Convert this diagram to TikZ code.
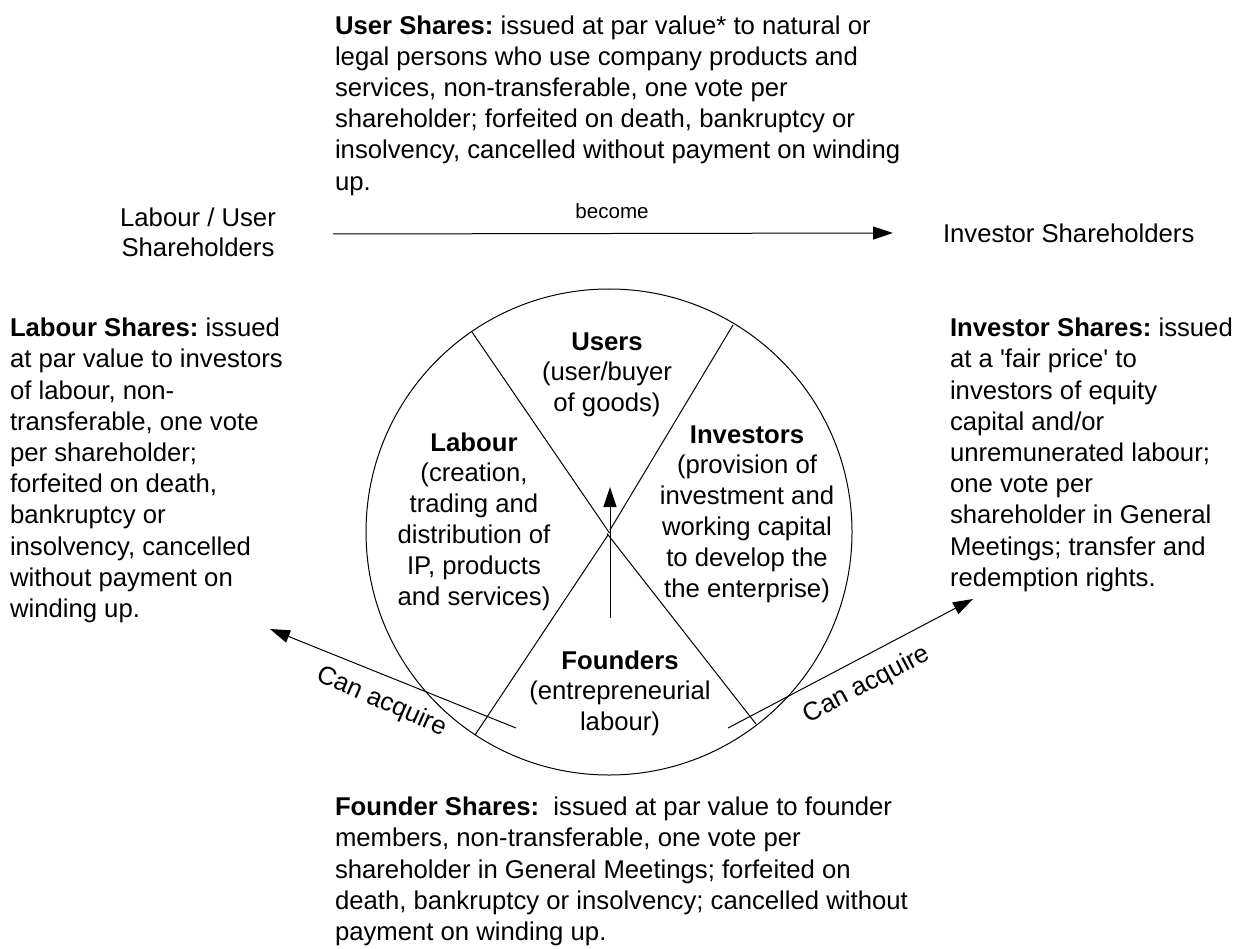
\documentclass[tikz,border=0pt]{standalone}
\usepackage{fontspec}
\newfontfamily\arial{Liberation Sans}
\usetikzlibrary{arrows.meta}
\begin{document}
\frenchspacing
\begin{tikzpicture}[x=1pt,y=-1pt,
  every node/.style={inner sep=0pt, outer sep=0pt},
  body/.style={font=\arial\fontsize{25.7}{31.2}\selectfont\frenchspacing},
  txt/.style={body, align=left, anchor=north west},
  ctxt/.style={font=\arial\fontsize{25.7}{30.8}\selectfont\frenchspacing, align=center, anchor=north},
  conn/.style={line width=1pt},
  arr/.style={conn, -{Triangle[length=20pt,width=13pt]}},
]
\fill[white] (0,0) rectangle (1246,949);
\path[use as bounding box] (0,0) rectangle (1246,949);

% circle
\node[circle, draw, line width=1pt, minimum size=486pt] (circ) at (609,532) {};

% dividers
\coordinate (tl) at (472,332);
\coordinate (tr) at (733,325);
\coordinate (bl) at (475,735);
\coordinate (br) at (756,724);
\coordinate (c1) at (609.5,533);
\coordinate (c2) at (610,530);
\coordinate (c3) at (608,535);
\coordinate (c4) at (607,533.5);
\draw[conn] (tl) -- (c1);
\draw[conn] (tr) -- (c2);
\draw[conn] (bl) -- (c3);
\draw[conn] (br) -- (c4);

% sector texts
\node[ctxt] (users) at (607,332.5) {\textbf{Users}\\(user/buyer\\of goods)};
\node[ctxt] (labour) at (474,432.5) {\textbf{Labour}\\(creation,\\trading and\\distribution of\\IP, products\\and services)};
\node[ctxt] (investors) at (747,425.5) {\textbf{Investors}\\(provision of\\investment and\\working capital\\to develop the\\the enterprise)};
\node[ctxt] (founders) at (620,650.5) {\textbf{Founders}\\(entrepreneurial\\labour)};

% vertical arrow
\coordinate (va1) at (610,618);
\coordinate (va2) at (610,487);
\draw[arr] (va1) -- (va2);

% top labels and become arrow
\node[ctxt] (lus) at (198,207.5) {Labour / User\\Shareholders};
\node[body, anchor=west] (ish) at (943,233) {Investor Shareholders};
\coordinate (b1) at (333,234);
\coordinate (b2) at (893,233);
\draw[arr] (b1) -- (b2);
\node[font=\arial\fontsize{20.6}{24}\selectfont] (become) at (612,211) {become};

% share descriptions
\node[txt] (usersh) at (335,15.5) {\textbf{User Shares:} issued at par value* to natural or\\legal persons who use company products and\\services, non-transferable, one vote per\\shareholder; forfeited on death, bankruptcy or\\insolvency, cancelled without payment on winding\\up.};
\node[txt] (labsh) at (10,318) {\textbf{Labour Shares:} issued\\at par value to investors\\of labour, non-\\transferable, one vote\\per shareholder;\\forfeited on death,\\bankruptcy or\\insolvency, cancelled\\without payment on\\winding up.};
\node[txt] (invsh) at (950,318) {\textbf{Investor Shares:} issued\\at a 'fair price' to\\investors of equity\\capital and/or\\unremunerated labour;\\one vote per\\shareholder in General\\Meetings; transfer and\\redemption rights.};
\node[txt] (fndsh) at (335,797) {\textbf{Founder Shares:}\ \ issued at par value to founder\\members, non-transferable, one vote per\\shareholder in General Meetings; forfeited on\\death, bankruptcy or insolvency; cancelled without\\payment on winding up.};

% can acquire arrows
\coordinate (la1) at (516,728);
\coordinate (la2) at (270,629);
\draw[arr] (la1) -- (la2);
\coordinate (ra1) at (728,728);
\coordinate (ra2) at (973,599);
\draw[arr] (ra1) -- (ra2);
\node[body, rotate=-23.5] (ca1) at (382,702) {Can acquire};
\node[body, rotate=27.8] (ca2) at (867,685) {Can acquire};
\end{tikzpicture}
\end{document}
